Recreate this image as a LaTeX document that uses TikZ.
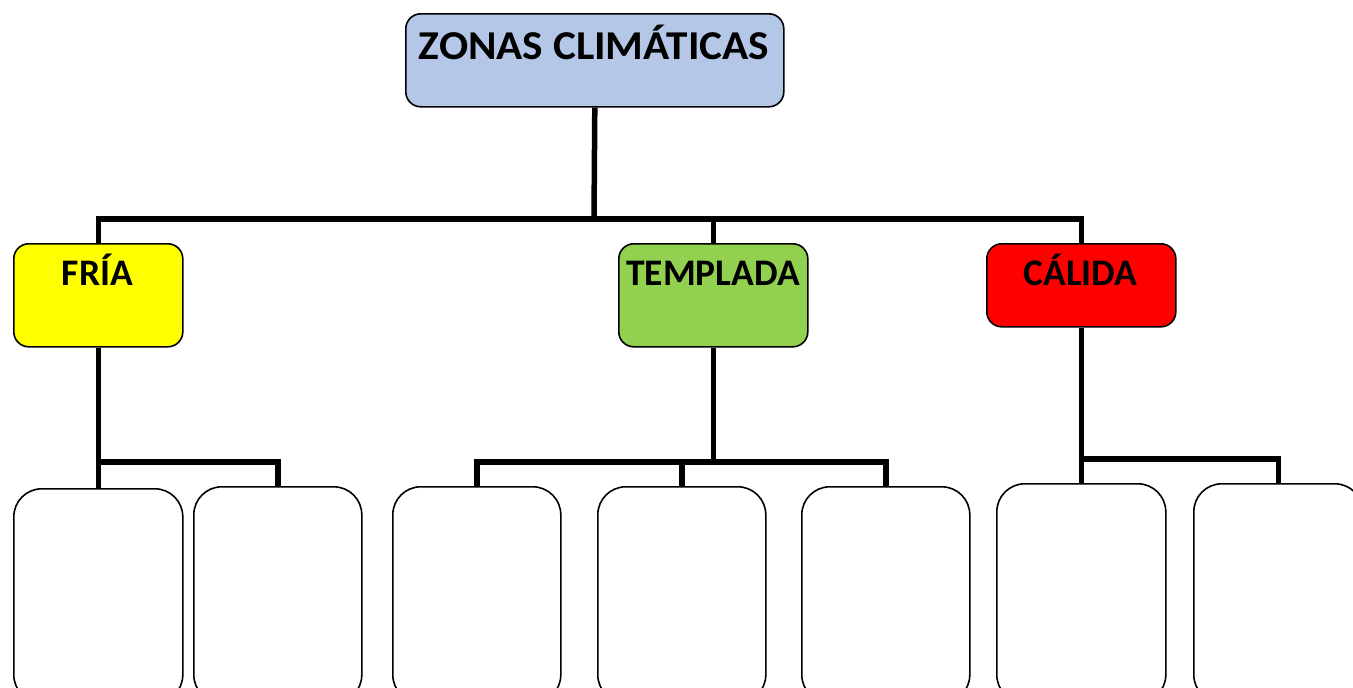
\documentclass[tikz,border=0pt]{standalone}
\usepackage{fontspec}
\setmainfont{Carlito}
\newfontfamily\titlefont[FakeStretch=1.055]{Carlito}
\definecolor{topblue}{HTML}{B4C7E7}
\definecolor{cyel}{HTML}{FFFF00}
\definecolor{cgreen}{HTML}{92D050}
\definecolor{cred}{HTML}{FF0000}
\tikzset{
  conn/.style={line width=5.5pt, line join=miter},
  headbox/.style={draw=black, line width=1.6pt, rounded corners=15pt, inner sep=0pt, anchor=north west},
  leafbox/.style={draw=black, line width=1.6pt, rounded corners=28pt, inner sep=0pt, anchor=north west, fill=white},
  lbl/.style={font=\bfseries\fontsize{37.5}{40}\selectfont, anchor=base, inner sep=0pt},
  ttl/.style={font=\titlefont\bfseries\fontsize{41}{44}\selectfont, anchor=base, inner sep=0pt},
}
\begin{document}
\begin{tikzpicture}[x=1pt,y=-1pt]
\useasboundingbox (0,0) rectangle (1353,688);
\clip (0,0) rectangle (1353,688);
% top
\node[headbox, fill=topblue, minimum width=378pt, minimum height=93pt] (top) at (405,13) {};
\node[ttl] (toplbl) at (594,59) {ZONAS CLIMÁTICAS};
% second level
\node[headbox, fill=cyel, minimum width=169pt, minimum height=103pt] (fria) at (13,243) {};
\node[lbl] (frialbl) at (97.5,285) {FRÍA};
\node[headbox, fill=cgreen, minimum width=189pt, minimum height=103pt] (templada) at (618,243) {};
\node[lbl] (templbl) at (713,285) {TEMPLADA};
\node[headbox, fill=cred, minimum width=189pt, minimum height=83pt] (calida) at (986,243) {};
\node[lbl] (callbl) at (1080.5,285) {CÁLIDA};
% leaves
\node[leafbox, minimum width=169pt, minimum height=214pt] (f1) at (13,488) {};
\node[leafbox, minimum width=168pt, minimum height=216pt] (f2) at (193,486) {};
\node[leafbox, minimum width=168pt, minimum height=216pt] (t1) at (392,486) {};
\node[leafbox, minimum width=168pt, minimum height=216pt] (t2) at (597,486) {};
\node[leafbox, minimum width=168pt, minimum height=216pt] (t3) at (801,486) {};
\node[leafbox, minimum width=169pt, minimum height=219pt] (c1) at (996,483) {};
\node[leafbox, minimum width=169pt, minimum height=219pt] (c2) at (1193,483) {};
% junctions
\coordinate (j0) at (594,219);
\coordinate (jf) at (97.5,462);
\coordinate (jt) at (713,462);
\coordinate (jc) at (1080.5,459);
% connectors
\draw[conn] (top.south) -- (j0);
\draw[conn] (fria.north) |- (j0) -| (calida.north);
\draw[conn] (templada.north) -- (templada.north |- j0);
\draw[conn] (fria.south) -- (f1.north);
\draw[conn] (jf) -| (f2.north);
\draw[conn] (templada.south) -- (templada.south |- jt);
\draw[conn] (t1.north) |- (jt) -| (t3.north);
\draw[conn] (t2.north) -- (t2.north |- jt);
\draw[conn] (calida.south) -- (c1.north);
\draw[conn] (jc) -| (c2.north);
\end{tikzpicture}
\end{document}
